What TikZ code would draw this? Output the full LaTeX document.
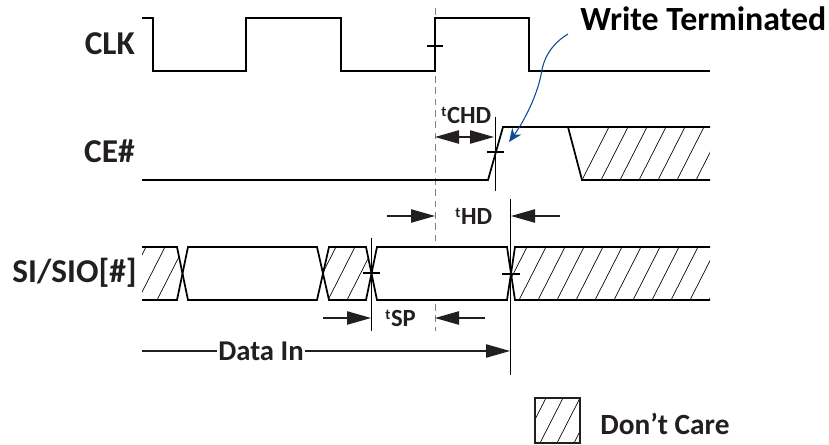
\documentclass[tikz,border=0pt]{standalone}
\usepackage{fontspec}
\setmainfont{Carlito}
\usetikzlibrary{arrows.meta}
\definecolor{inkblack}{HTML}{231F20}
\definecolor{arrowblue}{HTML}{0F4C95}
\newcommand{\tsup}{\raisebox{0.62ex}{\fontsize{11}{11}\selectfont t}\kern0.5pt}

\begin{document}
\begin{tikzpicture}[
x=0.75pt, y=-0.75pt,
wave/.style={draw=black, line width=1.3pt, line join=miter},
tickmark/.style={draw=black, line width=1.1pt},
hatchline/.style={draw=black, line width=0.5pt},
refline/.style={draw=black, line width=0.75pt},
dashline/.style={draw=gray, line width=0.7pt, dash pattern=on 5pt off 3.5pt},
dimarrow/.style={draw=inkblack, line width=0.9pt, -{Triangle[length=18pt, width=10pt]}},
siglabel/.style={font=\bfseries\fontsize{25}{30}\selectfont, text=inkblack, inner sep=0pt},
timelabel/.style={font=\bfseries\fontsize{18.5}{22}\selectfont, text=inkblack, inner sep=0pt, anchor=base west}
]
\useasboundingbox (0,0) rectangle (829,445);

\draw[dashline] (435,8) -- (435,242);
\draw[dashline] (435,304) -- (435,331);

% hatching
\begin{scope}
\clip (568,127) -- (582,180) -- (710,180) -- (710,127) -- cycle;
\foreach \x in {582,601,...,730} \draw[hatchline] (\x,180) -- (\x+27,127);
\end{scope}
\begin{scope}
\clip (142,247) -- (177,247) -- (182,273) -- (177,300) -- (142,300) -- cycle;
\foreach \x in {119,138,157} \draw[hatchline] (\x,300) -- (\x+27,247);
\end{scope}
\begin{scope}
\clip (329,247) -- (366,247) -- (371,273) -- (366,300) -- (329,300) -- (323,273) -- cycle;
\foreach \x in {309,328,347,366} \draw[hatchline] (\x,300) -- (\x+27,247);
\end{scope}
\begin{scope}
\clip (515,247) -- (710,247) -- (710,300) -- (515,300) -- (510,273) -- cycle;
\foreach \x in {500,519,...,710} \draw[hatchline] (\x,300) -- (\x+27,247);
\end{scope}
\begin{scope}
\clip (535,398) rectangle (580,443);
\foreach \x in {523,540,557,574} \draw[hatchline] (\x,443) -- (\x+23,398);
\end{scope}

% CLK and CE#
\draw[wave] (142,18) -- (153,18) -- (153,71) -- (246,71) -- (246,18) -- (341,18) -- (341,71) -- (435,71) -- (435,18) -- (529,18) -- (529,71) -- (710,71);
\draw[tickmark] (427,46) -- (443,46);
\draw[wave] (142,180) -- (488,180) -- (503,127) -- (710,127);
\draw[wave] (568,127) -- (582,180) -- (710,180);
\draw[tickmark] (487,152) -- (504,152);
\draw[refline] (495,117) -- (495,191);

% SI/SIO
\draw[wave] (142,247) -- (177,247) -- (188,300) -- (317,300) -- (329,247) -- (366,247) -- (377,300) -- (507,300) -- (515,247) -- (710,247);
\draw[wave] (142,300) -- (177,300) -- (188,247) -- (317,247) -- (329,300) -- (366,300) -- (377,247) -- (507,247) -- (515,300) -- (710,300);
\draw[tickmark] (363,273) -- (380,273);
\draw[tickmark] (502,274) -- (520,274);
\draw[refline] (371,238) -- (371,331);
\draw[refline] (510,199) -- (510,375);

\node[siglabel, anchor=base east] (clk) at (135,55) {CLK};
\node[siglabel, anchor=base east] (ce) at (135,163) {CE\#};
\node[siglabel, anchor=base east] (sio) at (137,283) {SI/SIO[\#]};
\node[font=\bfseries\fontsize{25.4}{30}\selectfont, text=black, inner sep=0pt, anchor=base west] (term) at (580,31) {Write Terminated};
\node[timelabel] (chd) at (441,124) {\tsup CHD};
\node[timelabel] (hd) at (455,225) {\tsup HD};
\node[timelabel] (sp) at (385,327) {\tsup SP};
\node[timelabel, font=\bfseries\fontsize{21.5}{26}\selectfont, fill=white, inner xsep=1pt, inner ysep=0pt, anchor=base] (datain) at (261,361) {Data In};
\node[timelabel, font=\bfseries\fontsize{22}{26}\selectfont] (care) at (600,435) {Don’t Care};
\node[draw=inkblack, line width=1pt, minimum width=33.75pt, minimum height=33.75pt, inner sep=0pt] (carebox) at (557.5,420.5) {};

\coordinate (chdl) at (435,137);
\coordinate (chdr) at (494,137);
\coordinate (chdm) at (465,137);
\coordinate (hdla) at (387,216);
\coordinate (hdlb) at (435,216);
\coordinate (hdra) at (560,216);
\coordinate (hdrb) at (511,216);
\coordinate (spla) at (323,318);
\coordinate (splb) at (371,318);
\coordinate (spra) at (485,318);
\coordinate (sprb) at (435,318);
\coordinate (dataa) at (142,351);
\coordinate (datab) at (510,351);
\coordinate (terma) at (568,34);
\coordinate (termb) at (509,142);

\draw[dimarrow] (chdm) -- (chdl);
\draw[dimarrow] (chdm) -- (chdr);
\draw[dimarrow] (hdla) -- (hdlb);
\draw[dimarrow] (hdra) -- (hdrb);
\draw[dimarrow] (spla) -- (splb);
\draw[dimarrow] (spra) -- (sprb);
\draw[draw=inkblack, line width=0.9pt] (dataa) -- (datain.west |- dataa);
\draw[dimarrow] (datain.east |- datab) -- (datab);
\draw[draw=arrowblue, line width=0.8pt, -{Stealth[length=10pt, width=8.5pt]}] (terma) .. controls (550,45) and (543,60) .. (541,75) .. controls (537,95) and (525,120) .. (termb);
\end{tikzpicture}
\end{document}
